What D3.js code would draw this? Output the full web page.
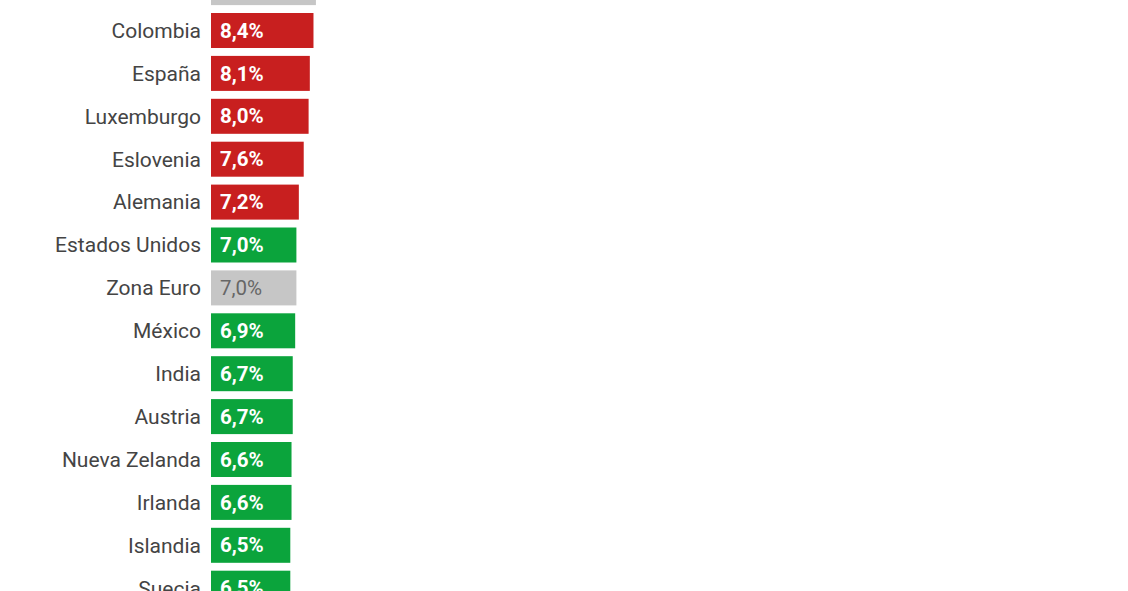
<!DOCTYPE html>
<html>
<head>
<meta charset="utf-8">
<script src="https://cdn.jsdelivr.net/npm/d3@7"></script>
<style>
  html, body { margin: 0; padding: 0; background: #fff; }
  svg { display: block; overflow: hidden; }
</style>
</head>
<body>
<svg id="chart" width="1128" height="591"></svg>
<script>
const countries = ["OCDE", "Colombia", "España", "Luxemburgo", "Eslovenia", "Alemania", "Estados Unidos", "Zona Euro", "México", "India", "Austria", "Nueva Zelanda", "Irlanda", "Islandia", "Suecia"];
const values = [8.6, 8.4, 8.1, 8.0, 7.6, 7.2, 7.0, 7.0, 6.9, 6.7, 6.7, 6.6, 6.6, 6.5, 6.5];
const groups = ["agregado", "alto", "alto", "alto", "alto", "alto", "bajo", "agregado", "bajo", "bajo", "bajo", "bajo", "bajo", "bajo", "bajo"];

const colors = { alto: "#c81f1f", bajo: "#0ba43c", agregado: "#c6c6c6" };
const labelColors = { alto: "#ffffff", bajo: "#ffffff", agregado: "#666666" };

const data = countries.map((c, i) => ({ name: c, value: values[i], group: groups[i] }));

const svg = d3.select("#chart");
const step = 42.9;
const y0 = 30.5 - 1.5 * step;
const pad = (step - 35) / step;

const y = d3.scaleBand()
  .domain(countries)
  .range([y0, y0 + countries.length * step])
  .paddingInner(pad)
  .paddingOuter(pad / 2);

const x = d3.scaleLinear().domain([0, 10]).range([211, 211 + 122]);

const row = svg.selectAll("g.row").data(data).join("g").attr("class", "row");

row.append("rect")
  .attr("x", x(0))
  .attr("y", d => y(d.name))
  .attr("width", d => x(d.value) - x(0))
  .attr("height", y.bandwidth())
  .attr("fill", d => colors[d.group]);

row.append("text")
  .attr("x", 201)
  .attr("y", d => y(d.name) + y.bandwidth() / 2)
  .attr("dy", "0.35em")
  .attr("text-anchor", "end")
  .attr("font-family", "Roboto, sans-serif")
  .attr("font-size", 21)
  .attr("fill", "#444")
  .text(d => d.name);

const fmt = v => v.toFixed(1).replace(".", ",") + "%";

row.append("text")
  .attr("x", x(0) + 9)
  .attr("y", d => y(d.name) + y.bandwidth() / 2)
  .attr("dy", "0.35em")
  .attr("font-family", "Roboto, sans-serif")
  .attr("font-size", 20.5)
  .attr("font-weight", d => d.group === "agregado" ? "normal" : "bold")
  .attr("fill", d => labelColors[d.group])
  .text(d => fmt(d.value));
</script>
</body>
</html>
